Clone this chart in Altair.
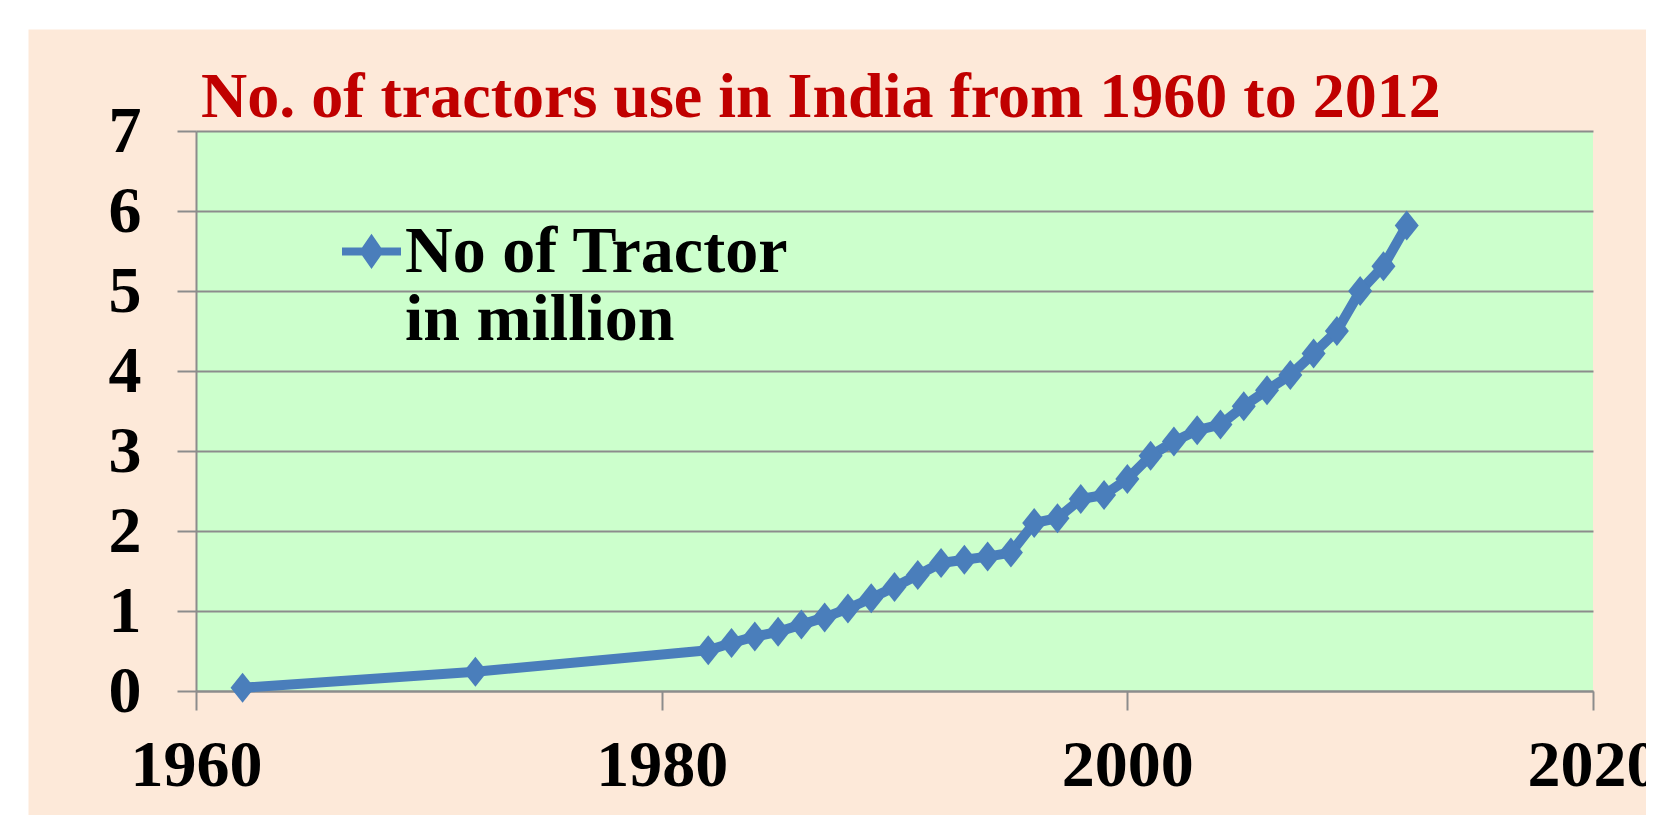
import altair as alt
import pandas as pd

years = [1962, 1972, 1982, 1983, 1984, 1985, 1986, 1987, 1988, 1989, 1990,
         1991, 1992, 1993, 1994, 1995, 1996, 1997, 1998, 1999, 2000,
         2001, 2002, 2003, 2004, 2005, 2006, 2007, 2008, 2009, 2010, 2011, 2012]
tractors = [0.04, 0.24, 0.51, 0.60, 0.68, 0.74, 0.83, 0.92, 1.03, 1.16, 1.30,
            1.45, 1.60, 1.64, 1.68, 1.73, 2.10, 2.16, 2.40, 2.45, 2.65,
            2.94, 3.12, 3.26, 3.33, 3.56, 3.76, 3.95, 4.22, 4.50, 5.00, 5.31, 5.82]
series_name = "No of Tractor in million"
x_ticks = [1960, 1980, 2000, 2020]
y_ticks = [0, 1, 2, 3, 4, 5, 6, 7]
title_text = "No. of tractors use in India from 1960 to 2012"

W, H = 1397, 560
PAD = {"left": 188, "top": 123, "right": 53, "bottom": 124}
FONT = "Liberation Serif"
BLUE = "#4A7EBB"
GRID = "#8C8C8C"

df = pd.DataFrame({"year": years, "value": tractors, "series": [series_name] * len(years)})

diamond = "M-0.8,0L0,-1L0.8,0L0,1Z"
legend_sym = "M-1,-0.68L1,-0.68M-0.25,-0.68L0,-1.04L0.25,-0.68L0,-0.32Z"

line = alt.Chart(df).mark_line(
    strokeWidth=10, strokeJoin="round", strokeCap="round",
    point=alt.OverlayMarkDef(shape=diamond, size=900, filled=True, opacity=1, strokeWidth=0),
).encode(
    x=alt.X("year:Q", scale=alt.Scale(domain=[1960, 2020], nice=False, zero=False),
            axis=alt.Axis(values=x_ticks, format="d", title=None, grid=False,
                          tickSize=19, labelPadding=23, labelFlush=False)),
    y=alt.Y("value:Q", scale=alt.Scale(domain=[0, 7], nice=False),
            axis=alt.Axis(values=y_ticks, title=None, grid=True, tickSize=19, labelPadding=36)),
    color=alt.Color("series:N", scale=alt.Scale(range=[BLUE]),
                    legend=alt.Legend(orient="none", legendX=142, legendY=107, title=None,
                                      labelExpr="['No of Tractor', 'in million']",
                                      labelFont=FONT, labelFontSize=66, labelFontWeight="bold",
                                      labelColor="black", labelLimit=2000, labelBaseline="alphabetic",
                                      symbolType=legend_sym, symbolSize=3481, symbolStrokeWidth=8,
                                      symbolFillColor=BLUE, symbolStrokeColor=BLUE,
                                      labelOffset=0, padding=0)),
)

blank = pd.DataFrame({"k": [0]})
strip_top = alt.Chart(blank).mark_rect(color="white").encode(
    x=alt.value(-PAD["left"]), x2=alt.value(W + PAD["right"]),
    y=alt.value(-PAD["top"]), y2=alt.value(-101.5))
strip_left = alt.Chart(blank).mark_rect(color="white").encode(
    x=alt.value(-PAD["left"]), x2=alt.value(-167.5),
    y=alt.value(-PAD["top"]), y2=alt.value(H + PAD["bottom"]))
title = alt.Chart(blank).mark_text(
    text=title_text, align="left", baseline="alphabetic", font=FONT, fontSize=64,
    fontWeight="bold", color="#C00000",
).encode(x=alt.value(5), y=alt.value(-14))

chart = alt.layer(strip_top, strip_left, title, line).properties(
    width=W, height=H,
    autosize=alt.AutoSizeParams(type="none"),
    padding=PAD,
    background="#FDE9D9",
).configure_view(
    fill="#CCFFCC", stroke=None
).configure_axis(
    labelFont=FONT, labelFontSize=66, labelFontWeight="bold", labelColor="black",
    domainColor=GRID, domainWidth=2, tickColor=GRID, tickWidth=2,
    gridColor=GRID, gridWidth=2, gridOpacity=1,
)

chart.save("out.html", embed_options={"renderer": "svg", "actions": False})
